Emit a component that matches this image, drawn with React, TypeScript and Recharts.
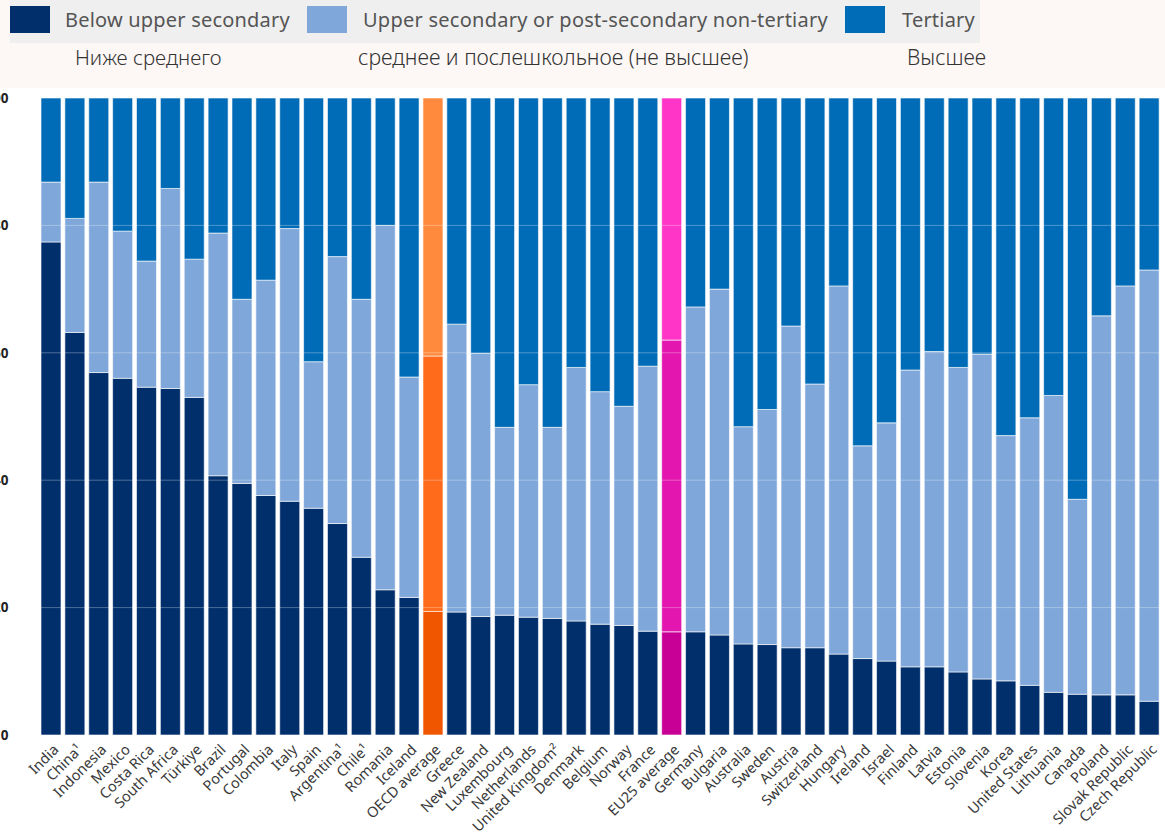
import { BarChart, Bar, XAxis, YAxis, Cell, ReferenceLine } from "recharts";

const countries = [
  "India", "China¹", "Indonesia", "Mexico", "Costa Rica", "South Africa", "Türkiye", "Brazil",
  "Portugal", "Colombia", "Italy", "Spain", "Argentina¹", "Chile¹", "Romania", "Iceland",
  "OECD average", "Greece", "New Zealand", "Luxembourg", "Netherlands", "United Kingdom²",
  "Denmark", "Belgium", "Norway", "France", "EU25 average", "Germany", "Bulgaria", "Australia",
  "Sweden", "Austria", "Switzerland", "Hungary", "Ireland", "Israel", "Finland", "Latvia",
  "Estonia", "Slovenia", "Korea", "United States", "Lithuania", "Canada", "Poland",
  "Slovak Republic", "Czech Republic",
];

// share of 25-64 year-olds, %
const belowUpper = [
  77.4, 63.2, 56.9, 56.0, 54.6, 54.4, 53.0, 40.7, 39.5, 37.6, 36.7, 35.6, 33.2, 27.9, 22.8, 21.6,
  19.4, 19.3, 18.6, 18.8, 18.5, 18.3, 17.9, 17.4, 17.2, 16.3, 16.2, 16.2, 15.7, 14.3, 14.2, 13.7,
  13.7, 12.7, 12.0, 11.6, 10.7, 10.7, 9.9, 8.8, 8.5, 7.8, 6.7, 6.4, 6.3, 6.3, 5.3,
];
const upperSecondary = [
  9.4, 17.9, 29.9, 23.1, 19.8, 31.4, 21.7, 38.1, 28.9, 33.8, 42.8, 23.0, 41.9, 40.5, 57.2, 34.6,
  40.1, 45.2, 41.3, 29.5, 36.5, 30.0, 39.8, 36.5, 34.4, 41.6, 45.8, 51.0, 54.3, 34.1, 36.9, 50.5,
  41.4, 57.8, 33.4, 37.4, 46.6, 49.5, 47.8, 51.0, 38.5, 42.0, 46.6, 30.6, 59.5, 64.2, 67.7,
];
const tertiary = [
  13.2, 18.9, 13.2, 20.9, 25.6, 14.2, 25.3, 21.2, 31.6, 28.6, 20.5, 41.4, 24.9, 31.6, 20.0, 43.8,
  40.5, 35.5, 40.1, 51.7, 45.0, 51.7, 42.3, 46.1, 48.4, 42.1, 38.0, 32.8, 30.0, 51.6, 48.9, 35.8,
  44.9, 29.5, 54.6, 51.0, 42.7, 39.8, 42.3, 40.2, 53.0, 50.2, 46.7, 63.0, 34.2, 29.5, 27.0,
];
const yTicks = [0, 20, 40, 60, 80, 100];

const data = countries.map((name, i) => ({
  name,
  below: belowUpper[i],
  upper: upperSecondary[i],
  tertiary: tertiary[i],
}));

const COLORS = {
  below: "#002f6c",
  upper: "#7fa7d9",
  tertiary: "#006bb6",
};
const OECD = { below: "#f05500", upper: "#ff6b1a", tertiary: "#ff8a3d" };
const EU = { below: "#c80096", upper: "#e317b0", tertiary: "#ff35c8" };

function colorFor(name: string, key: "below" | "upper" | "tertiary") {
  if (name === "OECD average") return OECD[key];
  if (name === "EU25 average") return EU[key];
  return COLORS[key];
}

const FONT = "'Noto Sans', 'Open Sans', sans-serif";

function XTick({ x, y, payload }: any) {
  return (
    <g transform={`translate(${x + 5},${y + 4})`}>
      <text
        textAnchor="end"
        transform="rotate(-45)"
        fontSize={14.5}
        fill="#3a3a3a"
        fontFamily={FONT}
        dy="0.35em"
      >
        {payload.value}
      </text>
    </g>
  );
}

// the tick labels are cut by the left edge, only the last digit shows
function YTick({ y, payload }: any) {
  return (
    <text x={8.5} y={y} dy="0.35em" textAnchor="end" fontSize={13.5} fontWeight={700} fill="#222" fontFamily={FONT}>
      {payload.value}
    </text>
  );
}

const legendItems = [
  { label: "Below upper secondary", color: COLORS.below, left: 10, textLeft: 65 },
  { label: "Upper secondary or post-secondary non-tertiary", color: COLORS.upper, left: 307, textLeft: 363 },
  { label: "Tertiary", color: COLORS.tertiary, left: 845, textLeft: 902 },
];

const subtitles = [
  { text: "Ниже среднего", left: 75, size: 20.5 },
  { text: "среднее и послешкольное (не высшее)", left: 358, size: 21.3 },
  { text: "Высшее", left: 907, size: 21 },
];

export default function App() {
  return (
    <div
      style={{
        position: "fixed",
        left: 0,
        top: 0,
        width: 1165,
        height: 836,
        background: "#ffffff",
        overflow: "hidden",
        fontFamily: FONT,
      }}
    >
      <div style={{ position: "absolute", left: 0, top: 0, width: 1165, height: 88, background: "#fdf8f6" }} />
      <div style={{ position: "absolute", left: 10, top: 0, width: 970, height: 43, background: "#efefef" }} />
      {legendItems.map((it) => (
        <div key={it.label}>
          <div
            style={{
              position: "absolute",
              left: it.left,
              top: 6,
              width: 40,
              height: 27,
              background: it.color,
            }}
          />
          <div
            style={{
              position: "absolute",
              left: it.textLeft,
              top: 6,
              fontSize: 20,
              lineHeight: "28px",
              letterSpacing: it.label.length > 30 ? 0.25 : 0.2,
              color: "#555",
              whiteSpace: "nowrap",
            }}
          >
            {it.label}
          </div>
        </div>
      ))}
      {subtitles.map((s) => (
        <div
          key={s.text}
          style={{
            position: "absolute",
            left: s.left,
            top: 42,
            fontSize: s.size,
            lineHeight: "30px",
            fontWeight: 300,
            color: "#333",
            whiteSpace: "nowrap",
          }}
        >
          {s.text}
        </div>
      ))}
      <div style={{ position: "absolute", left: 0, top: 0 }}>
        <BarChart
          width={1165}
          height={836}
          data={data}
          margin={{ top: 98, right: 4, left: 0, bottom: 0 }}
          barCategoryGap={2}
        >
          <XAxis
            dataKey="name"
            interval={0}
            height={101}
            axisLine={false}
            tickLine={false}
            tick={<XTick />}
          />
          <YAxis
            domain={[0, 100]}
            ticks={yTicks}
            width={39}
            axisLine={false}
            tickLine={false}
            tick={<YTick />}
          />
          <Bar dataKey="below" name="Below upper secondary" stackId="a" isAnimationActive={false} stroke="#ffffff" strokeOpacity={0.6} strokeWidth={1}>
            {data.map((d) => (
              <Cell key={d.name} fill={colorFor(d.name, "below")} />
            ))}
          </Bar>
          <Bar dataKey="upper" name="Upper secondary or post-secondary non-tertiary" stackId="a" isAnimationActive={false} stroke="#ffffff" strokeOpacity={0.6} strokeWidth={1}>
            {data.map((d) => (
              <Cell key={d.name} fill={colorFor(d.name, "upper")} />
            ))}
          </Bar>
          <Bar dataKey="tertiary" name="Tertiary" stackId="a" isAnimationActive={false} stroke="#ffffff" strokeOpacity={0.6} strokeWidth={1}>
            {data.map((d) => (
              <Cell key={d.name} fill={colorFor(d.name, "tertiary")} />
            ))}
          </Bar>
          {[20, 40, 60, 80].map((v) => (
            <ReferenceLine key={v} y={v} stroke="#ffffff" strokeOpacity={0.3} />
          ))}
        </BarChart>
      </div>
    </div>
  );
}
